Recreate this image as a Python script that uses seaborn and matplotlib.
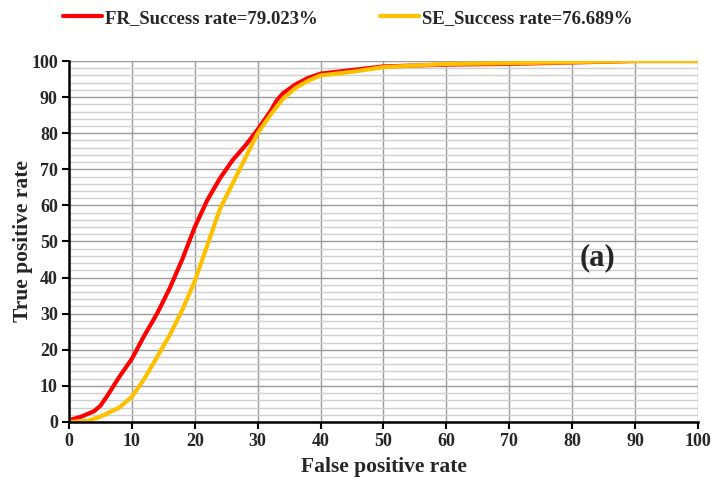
import matplotlib
matplotlib.use("Agg")
import matplotlib.pyplot as plt
import seaborn as sns
import pandas as pd
import numpy as np

fpr_fr = [0, 2, 4, 5, 6, 8, 10, 12, 14, 16, 18, 20, 22, 24, 26, 28, 30, 32, 33, 34, 36, 38, 40, 45, 50, 60, 70, 80, 90, 100]
tpr_fr = [0.5, 1.5, 3, 4.5, 7, 12.5, 17.5, 24, 30, 37, 45, 54, 61.5, 67.5, 72.5, 76.5, 81, 86, 89, 91, 93.5, 95.3, 96.5, 97.5, 98.5, 99, 99.2, 99.6, 100, 100]
fpr_se = [0, 3, 5, 6, 8, 10, 12, 14, 16, 18, 20, 22, 24, 26, 28, 30, 32, 34, 36, 38, 40, 45, 50, 60, 70, 80, 90, 100]
tpr_se = [0, 0.3, 1.5, 2.3, 4, 7, 12, 18, 24, 31, 39, 49, 59, 66, 73, 80, 85, 89.5, 92.5, 94.5, 96, 97, 98.3, 99.2, 99.4, 99.7, 100, 100]
labels = ["FR_Success rate=79.023%", "SE_Success rate=76.689%"]
colors = ["#FF0000", "#FFC000"]

df = pd.concat([
    pd.DataFrame({"x": fpr_fr, "y": tpr_fr, "series": labels[0]}),
    pd.DataFrame({"x": fpr_se, "y": tpr_se, "series": labels[1]}),
])

sns.set_theme(style="white")
plt.rcParams["font.family"] = ["Liberation Serif", "DejaVu Serif"]
plt.rcParams["font.weight"] = "bold"

fig = plt.figure(figsize=(7.14, 4.92), dpi=100)
ax = fig.add_axes([0.0966, 0.1423, 0.881, 0.7337])

sns.lineplot(data=df, x="x", y="y", hue="series", palette=colors, linewidth=3.0,
             sort=False, estimator=None, ax=ax, legend=True)

ax.set_xlim(0, 100)
ax.set_ylim(0, 100)
ax.set_xticks(np.arange(0, 101, 10))
ax.set_yticks(np.arange(0, 101, 10))
ax.set_yticks(np.arange(0, 101, 2), minor=True)
ax.grid(which="major", axis="both", color="#9a9a9a", linewidth=1.0)
ax.grid(which="minor", axis="y", color="#d0d0d0", linewidth=1.0)
ax.set_axisbelow(True)
for s in ["top", "right"]:
    ax.spines[s].set_visible(False)
for s in ["left", "bottom"]:
    ax.spines[s].set_color("black")
    ax.spines[s].set_linewidth(1.8)
ax.tick_params(axis="both", which="major", direction="out", length=5, width=1.5,
               color="black", labelsize=13, bottom=True, left=True, pad=3)
ax.tick_params(axis="y", which="minor", left=False)
for lab in ax.get_xticklabels() + ax.get_yticklabels():
    lab.set_fontweight("bold")

ax.set_xlabel("False positive rate", fontsize=15.5, fontweight="bold", labelpad=5)
ax.set_ylabel("True positive rate", fontsize=15.5, fontweight="bold", labelpad=-1)

ax.text(84.1, 45.5, "(a)", fontsize=22, fontweight="bold", ha="center", va="center")

handles, lbls = ax.get_legend_handles_labels()
ax.legend(handles, lbls, loc="center left", bbox_to_anchor=(63 / 714, 1 - 18 / 492),
          bbox_transform=fig.transFigure, ncol=2,
          frameon=False, prop={"weight": "bold", "size": 13.5}, handlelength=2.1,
          handletextpad=0.15, columnspacing=3.3, borderaxespad=0, borderpad=0)

fig.savefig("out.png", dpi=100)
